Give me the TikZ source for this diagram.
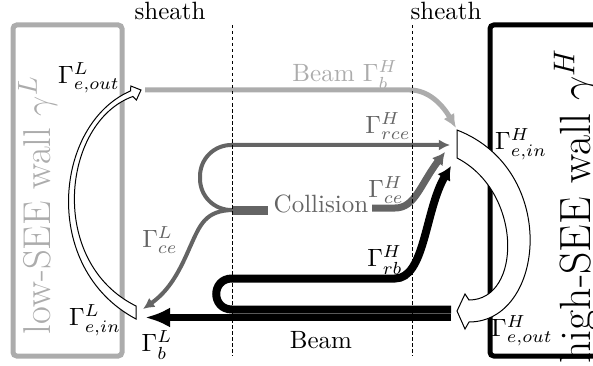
\documentclass[tikz,border=0pt]{standalone}
\usetikzlibrary{arrows.meta,calc}
\definecolor{lgray}{RGB}{172,172,172}
\definecolor{dgray}{RGB}{100,100,100}
\begin{document}
\begin{tikzpicture}[x=0.4pt,y=-0.4pt,
  lbl/.style={inner sep=0pt},
  sheathline/.style={line width=0.4pt,dash pattern=on 1.4pt off 1pt},
  wallbox/.style={line width=2pt,rounded corners=1.5pt},
  hollowarrow/.style={draw=black,fill=white,line width=0.4pt,line join=miter}]
\useasboundingbox (0,0) rectangle (593,366);
\clip (0,0) rectangle (593,366);
% walls
\draw[wallbox,lgray] (13,25) rectangle (122,356);
\draw[wallbox,black] (490,25) rectangle (650,356);
\node[rotate=90,anchor=base,inner sep=0pt,text=lgray,font=\fontsize{15.5}{18}\selectfont] (lwall) at (50,205) {low-SEE wall $\gamma^L$};
\node[rotate=90,anchor=base east,inner sep=0pt,font=\fontsize{17.5}{20}\selectfont] (rwall) at (590,48) {high-SEE wall $\gamma^H$};
% sheath labels
\node[lbl,anchor=base] (sh1) at (170,20) {sheath};
\node[lbl,anchor=base] (sh2) at (446,20) {sheath};
% light gray beam
\draw[lgray,line width=2pt,-{Latex[length=5.5pt,width=5pt]}] (145,90) -- (410,90) .. controls (428,90) and (442,104) .. (456,128);
\node[lbl,anchor=base,text=lgray] (bbh) at (345,82) {Beam $\Gamma_b^H$};
% dark gray collision
\draw[dgray,line width=1.6pt,rounded corners=12.5pt,-{Latex[length=4.5pt,width=4.5pt]}] (234,210) -- (200,210) -- (200,145) -- (450,145);
\draw[dgray,line width=3.6pt] (232,210) -- (268,210);
\draw[dgray,line width=1.6pt,-{Latex[length=4.5pt,width=4.5pt]}] (234,210) .. controls (205,210) and (200,225) .. (190,247) .. controls (180,270) and (170,290) .. (143,309);
\draw[dgray,line width=2.8pt,-{Latex[length=5pt,width=5.5pt]}] (372,208) -- (395,208) .. controls (415,208) and (420,185) .. (445,152);
\node[lbl,anchor=base,text=dgray] (coll) at (321,212) {Collision};
% black recirculated beam and beam
\draw[black,line width=3.2pt,-{Latex[length=5.5pt,width=6pt]}] (451,309.5) -- (232,309.5) .. controls (211,309.5) and (211,278.5) .. (232,278.5) -- (395,278.5) .. controls (425,278.5) and (425,210) .. (451,166);
\draw[black,line width=2.8pt,-{Latex[length=10pt,width=8pt]}] (451,317.5) -- (145,317.5);
% left hollow arrow (emission at low-SEE wall)
\coordinate (lT) at (141,90);
\draw[hollowarrow] (136,319) .. controls (40,268) and (54,124) .. (130.6,90.9)
  -- (130.8,86) -- (lT) -- (136.4,100) -- (132.8,96.5)
  .. controls (62,122) and (47,262) .. (136,306) -- cycle;
% right hollow arrow (emission at high-SEE wall)
\coordinate (rT) at (457,311);
\draw[hollowarrow] (457,130) .. controls (560,170) and (545,322) .. (469,322)
  -- (465,329) -- (rT) -- (465,294) -- (469,300)
  .. controls (522,300) and (523,192) .. (457,158) -- cycle;
% sheath lines
\coordinate (s1t) at (232,25); \coordinate (s1b) at (232,356);
\coordinate (s2t) at (412,25); \coordinate (s2b) at (412,356);
\draw[sheathline] (s1t) -- (s1b);
\draw[sheathline] (s2t) -- (s2b);
% labels
\node[lbl] (geoutL) at (89,78) {$\Gamma^L_{e,out}$};
\node[lbl,text=dgray] (grce) at (388,126) {$\Gamma^H_{rce}$};
\node[lbl] (geinH) at (521,144) {$\Gamma^H_{e,in}$};
\node[lbl,text=dgray] (gceH) at (386,190) {$\Gamma^H_{ce}$};
\node[lbl,text=dgray] (gceL) at (160,240) {$\Gamma^L_{ce}$};
\node[lbl] (grb) at (385,260) {$\Gamma^H_{rb}$};
\node[lbl] (geinL) at (95,320) {$\Gamma^L_{e,in}$};
\node[lbl] (gbL) at (157,345) {$\Gamma^L_b$};
\node[lbl,anchor=base] (beam) at (321,348) {Beam};
\node[lbl] (geoutH) at (522,331) {$\Gamma^H_{e,out}$};
\end{tikzpicture}
\end{document}
